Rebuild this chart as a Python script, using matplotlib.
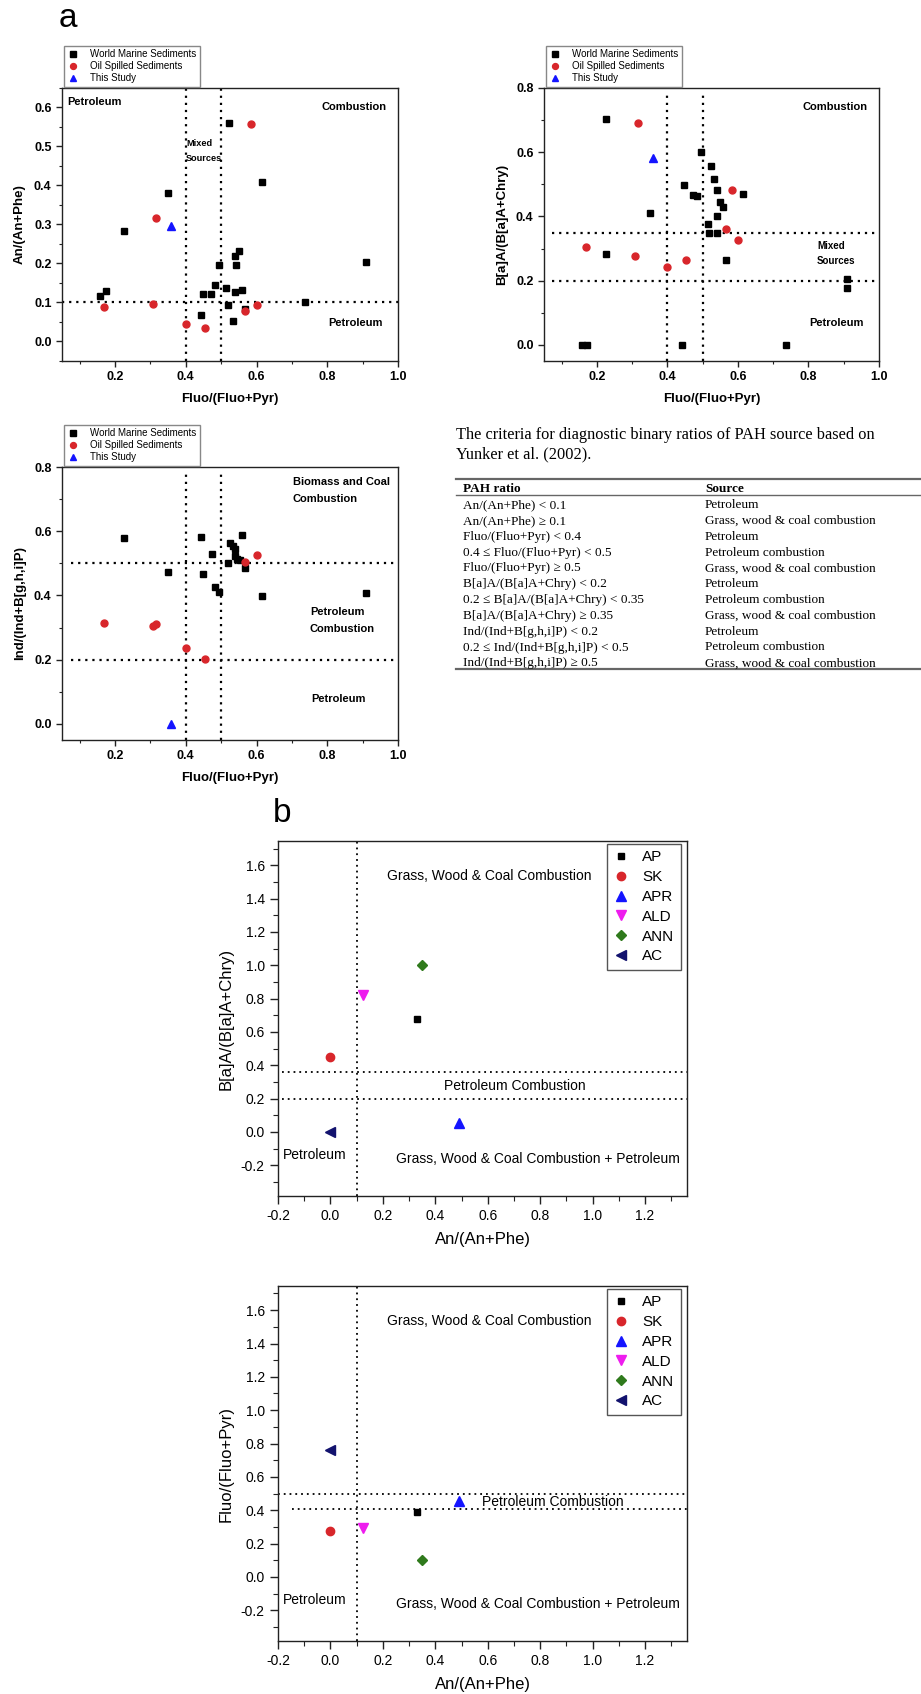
import matplotlib
matplotlib.use("Agg")
import matplotlib.pyplot as plt
import numpy as np

# ── Panel a, top-left: An/(An+Phe) vs Fluo/(Fluo+Pyr) ─────────────────────────
wms_fluo_an = [0.523, 0.615, 0.350, 0.2255, 0.909, 0.550, 0.540, 0.543, 0.495, 0.483, 0.449,
               0.472, 0.515, 0.540, 0.558, 0.518, 0.442, 0.533, 0.567, 0.737, 0.157, 0.173]
wms_an = [0.561, 0.409, 0.380, 0.284, 0.205, 0.233, 0.220, 0.195, 0.195, 0.144, 0.122,
          0.122, 0.138, 0.128, 0.131, 0.094, 0.069, 0.052, 0.084, 0.101, 0.117, 0.129]
oss_fluo_an = [0.584, 0.315, 0.169, 0.308, 0.401, 0.453, 0.568, 0.600]
oss_an = [0.558, 0.316, 0.089, 0.096, 0.045, 0.034, 0.079, 0.094]
study_fluo_an = [0.359]
study_an = [0.296]

# ── Panel a, top-right: B[a]A/(B[a]A+Chry) vs Fluo/(Fluo+Pyr) ─────────────────
wms_fluo_baa = [0.2255, 0.494, 0.524, 0.532, 0.540, 0.448, 0.473, 0.483, 0.614, 0.550, 0.558, 0.540,
                0.350, 0.514, 0.517, 0.542, 0.2255, 0.566, 0.908, 0.908, 0.158, 0.172, 0.4415, 0.737]
wms_baa = [0.704, 0.600, 0.557, 0.518, 0.482, 0.498, 0.468, 0.464, 0.470, 0.446, 0.428, 0.403,
           0.412, 0.377, 0.350, 0.350, 0.283, 0.266, 0.205, 0.178, 0.0, 0.0, 0.0, 0.0]
oss_fluo_baa = [0.316, 0.583, 0.566, 0.599, 0.169, 0.307, 0.453, 0.400]
oss_baa = [0.692, 0.482, 0.362, 0.328, 0.306, 0.278, 0.265, 0.244]
study_fluo_baa = [0.358]
study_baa = [0.583]

# ── Panel a, middle-left: Ind/(Ind+B[g,h,i]P) vs Fluo/(Fluo+Pyr) ──────────────
wms_fluo_ind = [0.2255, 0.443, 0.558, 0.524, 0.534, 0.540, 0.473, 0.540, 0.545, 0.553, 0.518,
                0.567, 0.350, 0.449, 0.483, 0.495, 0.616, 0.909]
wms_ind = [0.578, 0.583, 0.589, 0.564, 0.554, 0.544, 0.530, 0.523, 0.5125, 0.510, 0.500,
           0.484, 0.472, 0.466, 0.426, 0.411, 0.397, 0.409]
oss_fluo_ind = [0.600, 0.568, 0.169, 0.308, 0.316, 0.401, 0.453]
oss_ind = [0.527, 0.505, 0.314, 0.306, 0.3125, 0.2375, 0.203]
study_fluo_ind = [0.359]
study_ind = [0.0]

# ── Table: Yunker et al. (2002) criteria ──────────────────────────────────────
ratio_rules = [
    "An/(An+Phe) < 0.1",
    "An/(An+Phe) \u2265 0.1",
    "Fluo/(Fluo+Pyr) < 0.4",
    "0.4 \u2264 Fluo/(Fluo+Pyr) < 0.5",
    "Fluo/(Fluo+Pyr) \u2265 0.5",
    "B[a]A/(B[a]A+Chry) < 0.2",
    "0.2 \u2264 B[a]A/(B[a]A+Chry) < 0.35",
    "B[a]A/(B[a]A+Chry) \u2265 0.35",
    "Ind/(Ind+B[g,h,i]P) < 0.2",
    "0.2 \u2264 Ind/(Ind+B[g,h,i]P) < 0.5",
    "Ind/(Ind+B[g,h,i]P) \u2265 0.5",
]
ratio_sources = [
    "Petroleum", "Grass, wood & coal combustion", "Petroleum", "Petroleum combustion",
    "Grass, wood & coal combustion", "Petroleum", "Petroleum combustion",
    "Grass, wood & coal combustion", "Petroleum", "Petroleum combustion",
    "Grass, wood & coal combustion",
]

# ── Panel b: this study's sites ───────────────────────────────────────────────
sites = ["AP", "SK", "APR", "ALD", "ANN", "AC"]
site_an = [0.33, 0.0, 0.49, 0.124, 0.35, 0.0]
site_baa = [0.68, 0.448, 0.054, 0.822, 1.0, 0.0]
site_fluo = [0.388, 0.278, 0.458, 0.296, 0.10, 0.762]
site_markers = ["s", "o", "^", "v", "D", "<"]
site_colors = ["#000000", "#d8262b", "#1414ff", "#ee1cee", "#2f7a1c", "#12126e"]
site_ms = [5, 6, 6.5, 6.5, 5, 6.5]

W, H = 921, 1694
RED, BLUE = "#d8262b", "#1414ff"
DOT_A = (0, (1, 2.2))
DOT_B = (0, (1, 2.2))

plt.rcParams["font.family"] = ["Liberation Sans", "DejaVu Sans"]
plt.rcParams["axes.linewidth"] = 1.0

fig = plt.figure(figsize=(W / 100, H / 100), dpi=100)


def px_axes(left, top, right, bottom):
    return fig.add_axes([left / W, 1 - bottom / H, (right - left) / W, (bottom - top) / H])


def fmt_ticks(ax, xt, yt, xminor, yminor, bold, size):
    w = "bold" if bold else "normal"
    ax.set_xticks(xt)
    ax.set_xticklabels([f"{v:.1f}" for v in xt], fontweight=w, fontsize=size)
    ax.set_yticks(yt)
    ax.set_yticklabels([f"{v:.1f}" for v in yt], fontweight=w, fontsize=size)
    ax.set_xticks(xminor, minor=True)
    ax.set_yticks(yminor, minor=True)
    ax.tick_params(which="both", direction="out", top=False, right=False, color="#222")
    ax.tick_params(which="major", length=4.5, width=1.0, pad=3)
    ax.tick_params(which="minor", length=2.5, width=0.8)
    for s in ax.spines.values():
        s.set_color("#222")


def yunker_panel(box, ylim, yt, yminor, ylabel, wx, wy, ox, oy, sx, sy):
    ax = px_axes(*box)
    ax.set_xlim(0.05, 1.0)
    ax.set_ylim(*ylim)
    ax.plot(wx, wy, "s", color="black", ms=4.3, label="World Marine Sediments", zorder=3)
    ax.plot(ox, oy, "o", color=RED, ms=5, label="Oil Spilled Sediments", zorder=3)
    ax.plot(sx, sy, "^", color=BLUE, ms=5.5, label="This Study", zorder=3)
    xt = [0.2, 0.4, 0.6, 0.8, 1.0]
    fmt_ticks(ax, xt, yt, np.arange(0.1, 1.0, 0.2), yminor, True, 9)
    ax.set_xlabel("Fluo/(Fluo+Pyr)", fontweight="bold", fontsize=9.5, labelpad=7)
    ax.set_ylabel(ylabel, fontweight="bold", fontsize=9.5, labelpad=6)
    leg = ax.legend(loc="lower left", bbox_to_anchor=(0.003, 1.0), fontsize=7, fancybox=False,
                    edgecolor="#888", borderaxespad=0.15, handlelength=1.0, handletextpad=1.3,
                    labelspacing=0.2, borderpad=0.35, markerscale=0.85, framealpha=1)
    leg.get_frame().set_linewidth(1.0)
    return ax


def label(ax, x, y, s, ha="left", size=8, bold=True):
    ax.text(x, y, s, ha=ha, va="center", fontsize=size, fontweight="bold" if bold else "normal")


# ── a: top-left ──
ax1 = yunker_panel((62, 88, 398, 361), (-0.05, 0.65), [0.0, 0.1, 0.2, 0.3, 0.4, 0.5, 0.6],
                   np.arange(-0.05, 0.66, 0.1), "An/(An+Phe)",
                   wms_fluo_an, wms_an, oss_fluo_an, oss_an, study_fluo_an, study_an)
ax1.axvline(0.4, color="black", lw=1.6, ls=DOT_A)
ax1.axvline(0.5, color="black", lw=1.6, ls=DOT_A)
ax1.axhline(0.1, color="black", lw=1.6, ls=DOT_A)
label(ax1, 0.064, 0.614, "Petroleum")
label(ax1, 0.969, 0.600, "Combustion", ha="right")
label(ax1, 0.401, 0.507, "Mixed", size=6.6)
label(ax1, 0.401, 0.468, "Sources", size=6.6)
label(ax1, 0.803, 0.048, "Petroleum")

# ── a: top-right ──
ax2 = yunker_panel((544, 88, 879, 361), (-0.05, 0.8), [0.0, 0.2, 0.4, 0.6, 0.8],
                   np.arange(0.1, 0.8, 0.2), "B[a]A/(B[a]A+Chry)",
                   wms_fluo_baa, wms_baa, oss_fluo_baa, oss_baa, study_fluo_baa, study_baa)
ax2.axvline(0.4, ymax=0.98, color="black", lw=1.6, ls=DOT_A)
ax2.axvline(0.5, ymax=0.98, color="black", lw=1.6, ls=DOT_A)
ax2.axhline(0.35, xmin=0.024, color="black", lw=1.6, ls=DOT_A)
ax2.axhline(0.2, xmin=0.024, color="black", lw=1.6, ls=DOT_A)
label(ax2, 0.967, 0.741, "Combustion", ha="right")
label(ax2, 0.8245, 0.307, "Mixed", size=7)
label(ax2, 0.8245, 0.262, "Sources", size=7)
label(ax2, 0.803, 0.069, "Petroleum")

# ── a: middle-left ──
ax3 = yunker_panel((62, 467, 398, 740), (-0.05, 0.8), [0.0, 0.2, 0.4, 0.6, 0.8],
                   np.arange(0.1, 0.8, 0.2), "Ind/(Ind+B[g,h,i]P)",
                   wms_fluo_ind, wms_ind, oss_fluo_ind, oss_ind, study_fluo_ind, study_ind)
ax3.axvline(0.4, ymax=0.977, color="black", lw=1.6, ls=DOT_A)
ax3.axvline(0.5, ymax=0.977, color="black", lw=1.6, ls=DOT_A)
ax3.axhline(0.5, xmin=0.026, color="black", lw=1.6, ls=DOT_A)
ax3.axhline(0.2, xmin=0.026, color="black", lw=1.6, ls=DOT_A)
label(ax3, 0.703, 0.753, "Biomass and Coal")
label(ax3, 0.703, 0.700, "Combustion")
label(ax3, 0.751, 0.349, "Petroleum")
label(ax3, 0.751, 0.296, "Combustion")
label(ax3, 0.756, 0.078, "Petroleum")


# ── b panels ──
def site_panel(box, yvals, ylabel, hlines, pc_xy):
    ax = px_axes(*box)
    ax.set_xlim(-0.2, 1.36)
    ax.set_ylim(-0.385, 1.745)
    for name, xv, yv, m, c, ms in zip(sites, site_an, yvals, site_markers, site_colors, site_ms):
        ax.plot([xv], [yv], m, color=c, ms=ms, label=name, zorder=3)
    ax.axvline(0.1, color="black", lw=1.3, ls=DOT_B)
    for yv, x0 in hlines:
        ax.axhline(yv, xmin=x0, color="black", lw=1.3, ls=DOT_B)
    fmt_ticks(ax, [-0.2, 0.0, 0.2, 0.4, 0.6, 0.8, 1.0, 1.2],
              [-0.2, 0.0, 0.2, 0.4, 0.6, 0.8, 1.0, 1.2, 1.4, 1.6],
              np.arange(-0.1, 1.36, 0.2), np.arange(-0.3, 1.75, 0.2), False, 10)
    ax.tick_params(which="major", length=6, pad=3.5)
    ax.tick_params(which="minor", length=3.5)
    ax.set_xlabel("An/(An+Phe)", fontsize=12, labelpad=6)
    ax.set_ylabel(ylabel, fontsize=12, labelpad=5)
    label(ax, 0.216, 1.536, "Grass, Wood & Coal Combustion", size=10, bold=False)
    label(ax, pc_xy[0], pc_xy[1], "Petroleum Combustion", size=10, bold=False)
    label(ax, -0.183, -0.14, "Petroleum", size=10, bold=False)
    label(ax, 0.249, -0.16, "Grass, Wood & Coal Combustion + Petroleum", size=10, bold=False)
    leg = ax.legend(loc="upper right", bbox_to_anchor=(1 - 6.3 / 409, 1 - 3.3 / 355), fontsize=11,
                    fancybox=False, edgecolor="#555", borderaxespad=0, handlelength=1.0,
                    handletextpad=0.9, labelspacing=0.38, borderpad=0.4, framealpha=1)
    leg.get_frame().set_linewidth(1.0)
    return ax


site_panel((278, 841, 687, 1196), site_baa, "B[a]A/(B[a]A+Chry)",
           [(0.36, 0.01), (0.2, 0.01)], (0.432, 0.276))
site_panel((278, 1286, 687, 1641), site_fluo, "Fluo/(Fluo+Pyr)",
           [(0.5, 0.0), (0.405, 0.035)], (0.578, 0.45))

# ── overlay in pixel coords: panel letters and the table ──
ov = fig.add_axes([0, 0, 1, 1], zorder=-1)
ov.set_xlim(0, W)
ov.set_ylim(H, 0)
ov.axis("off")
ov.text(59, 27, "a", fontsize=24, va="baseline")
ov.text(273, 822, "b", fontsize=24, va="baseline")

serif = ["Liberation Serif", "DejaVu Serif"]
ov.text(456, 439, "The criteria for diagnostic binary ratios of PAH source based on",
        fontsize=11.8, family=serif, va="baseline")
ov.text(456, 458, "Yunker et al. (2002).", fontsize=11.8, family=serif, va="baseline")
ov.plot([456, 921], [479, 479], color="#666", lw=1.6)
ov.plot([456, 921], [495, 495], color="#666", lw=1.0)
ov.plot([456, 921], [669.5, 669.5], color="#666", lw=1.6)
ov.text(463, 492, "PAH ratio", fontsize=9.5, family=serif, fontweight="bold", va="baseline")
ov.text(705, 492, "Source", fontsize=9.5, family=serif, fontweight="bold", va="baseline")
for i, (rule, src) in enumerate(zip(ratio_rules, ratio_sources)):
    yb = 508.3 + 15.8 * i
    ov.text(463, yb, rule, fontsize=9.5, family=serif, va="baseline")
    ov.text(705, yb, src, fontsize=9.5, family=serif, va="baseline")

fig.savefig("out.png", dpi=100)
